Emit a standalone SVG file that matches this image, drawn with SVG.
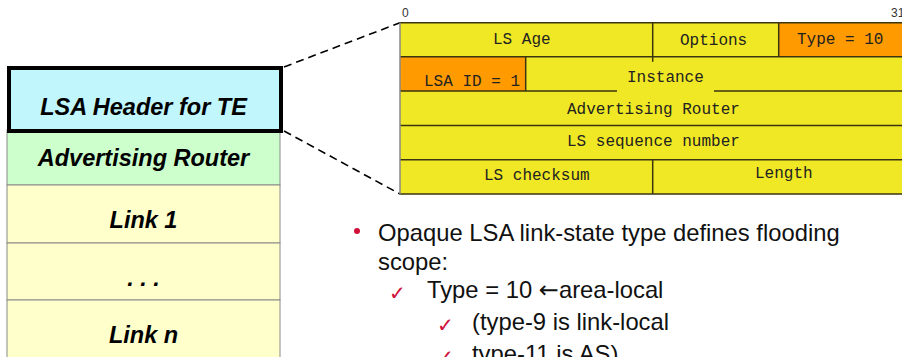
<svg xmlns="http://www.w3.org/2000/svg" width="902" height="357" viewBox="0 0 902 357">
<style>
.stk{stroke:#8a8a8a;stroke-width:1}
.lbl{font-family:"Liberation Sans",Arial,sans-serif;font-weight:bold;font-style:italic;font-size:23.5px;fill:#000;text-anchor:middle}
.cell{fill:#F0E824}
.org{fill:#FF9A00}
.ln{stroke:#3a3510;stroke-width:1.5;fill:none}
.mono{font-family:"Liberation Mono","Courier New",monospace;font-size:16px;fill:#222}
.bit{font-family:"Liberation Sans",Arial,sans-serif;font-size:12px;fill:#333}
.body{font-family:"Liberation Sans",Arial,sans-serif;font-size:23.8px;fill:#111}
.red{fill:#D0103A}
.chk{font-family:"DejaVu Sans",sans-serif;font-size:20px;fill:#D0103A}
.arr{font-family:"DejaVu Sans",sans-serif;font-size:24px}
.dash{stroke:#000;stroke-width:1.6;stroke-dasharray:8,5;fill:none}
</style>

<g id="stack-advrouter"><rect x="7" y="130" width="273" height="55" fill="#CCFFCC" class="stk"/><text class="lbl" x="143.5" y="166">Advertising Router</text></g>
<g id="stack-link1"><rect x="7" y="185" width="273" height="58" fill="#FFFFCC" class="stk"/><text class="lbl" x="143.5" y="228">Link 1</text></g>
<g id="stack-dots"><rect x="7" y="243" width="273" height="57" fill="#FFFFCC" class="stk"/><text class="lbl" x="143.5" y="286">. . .</text></g>
<g id="stack-linkn"><rect x="7" y="300" width="273" height="70" fill="#FFFFCC" class="stk"/><text class="lbl" x="143.5" y="343">Link n</text></g>
<g id="stack-header"><rect x="9" y="68" width="272" height="63" fill="#C0F6FC" stroke="#000" stroke-width="4"/><text class="lbl" x="143.5" y="115">LSA Header for TE</text></g>

<g id="connectors">
<line class="dash" x1="284" y1="67" x2="400" y2="22.7"/>
<line class="dash" x1="284" y1="131" x2="400" y2="194"/>
</g>

<g id="lsa-header-table">
<rect x="400" y="22.7" width="506" height="171.3" class="cell"/>
<rect x="778.7" y="22.7" width="127" height="34" class="org"/>
<rect x="400" y="56.7" width="125.7" height="34.3" class="org"/>
<path class="ln" d="M400,22.7 H906 M400,56.7 H906 M400,91 H617 M714,91 H906 M400,125.5 H906 M400,159.7 H906 M400,194 H906"/>
<path class="ln" d="M652.7,22.7 V61.7 M778.7,22.7 V56.7 M525.7,56.7 V91 M652.7,159.7 V194"/>
<line x1="400" y1="22.7" x2="400" y2="194" stroke="#888" stroke-width="1.5"/>
<text class="bit" x="402" y="17">0</text>
<text class="bit" x="891" y="17">31</text>
<text class="mono" x="493" y="44">LS Age</text>
<text class="mono" x="680" y="45">Options</text>
<text class="mono" x="797" y="44">Type = 10</text>
<text class="mono" x="424" y="86">LSA ID = 1</text>
<text class="mono" x="627" y="82">Instance</text>
<text class="mono" x="567" y="114">Advertising Router</text>
<text class="mono" x="567" y="146">LS sequence number</text>
<text class="mono" x="484" y="180">LS checksum</text>
<text class="mono" x="755" y="178">Length</text>
</g>

<g id="notes">
<circle class="red" cx="357" cy="231" r="3"/>
<text class="body" x="378" y="241">Opaque LSA link-state type defines flooding</text>
<text class="body" x="378" y="270">scope:</text>
<text class="chk" x="389" y="300">✓</text>
<text class="body" x="427" y="298">Type = 10 <tspan class="arr">←</tspan>area-local</text>
<text class="chk" x="437" y="332">✓</text>
<text class="body" x="472" y="330">(type-9 is link-local</text>
<text class="chk" x="437" y="364">✓</text>
<text class="body" x="472" y="362">type-11 is AS)</text>
</g>
</svg>
